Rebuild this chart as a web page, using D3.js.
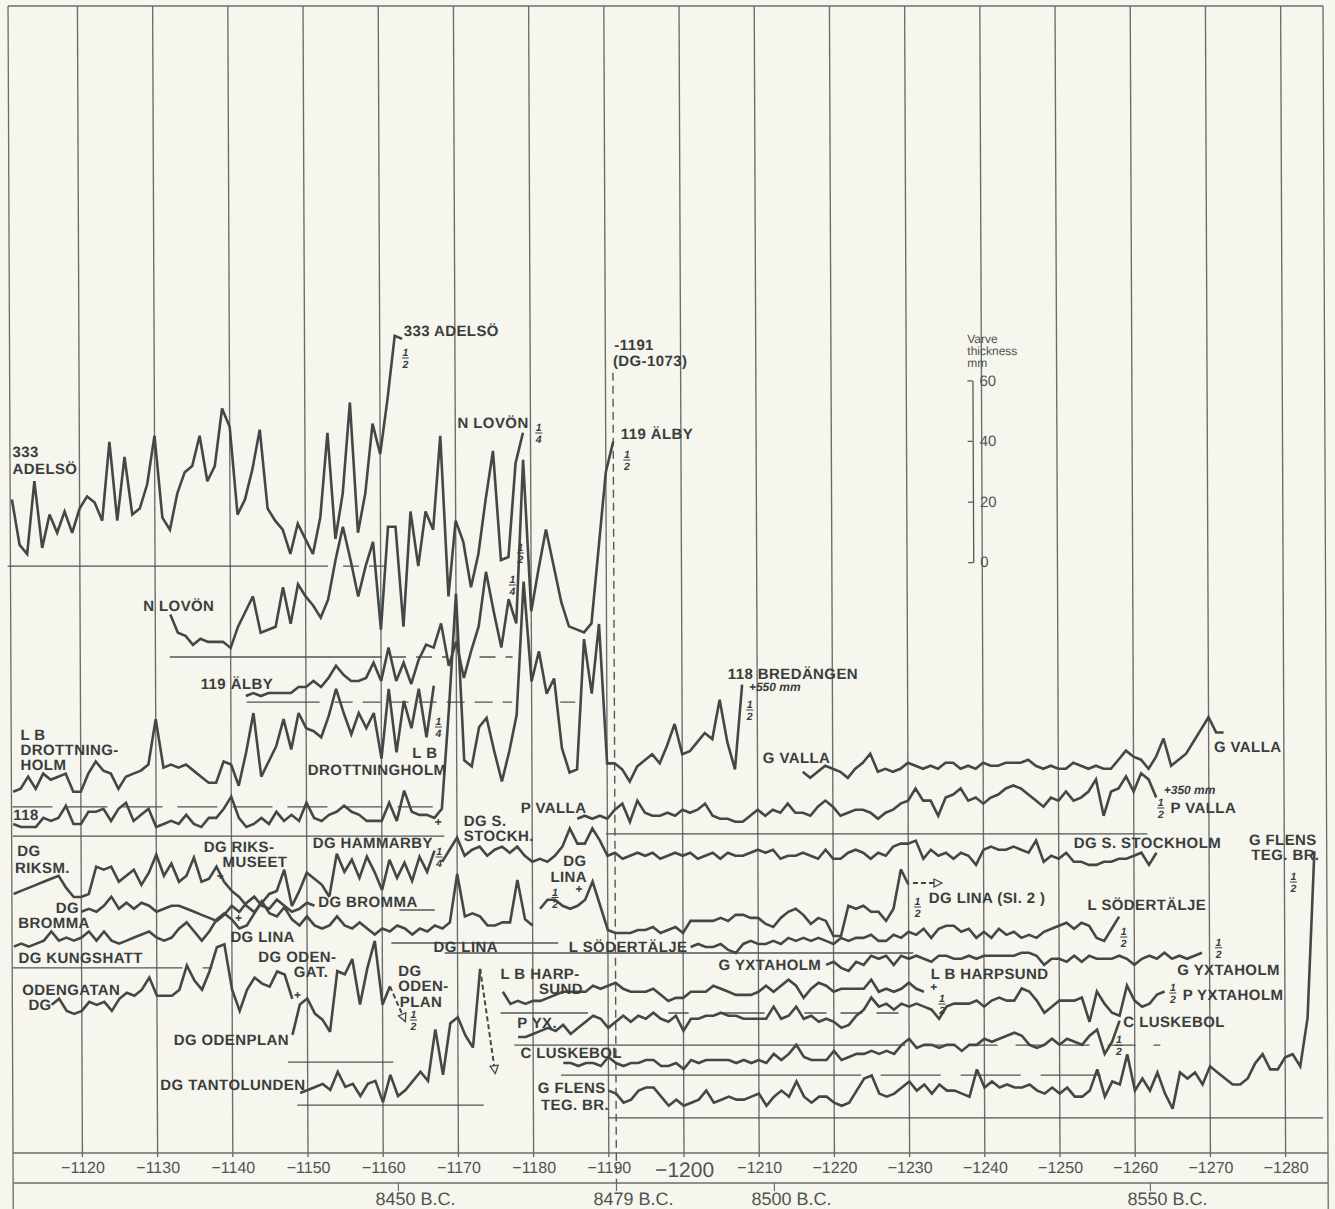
<!DOCTYPE html>
<html>
<head>
<meta charset="utf-8">
<script src="https://cdn.jsdelivr.net/npm/d3@7"></script>
<style>
  html, body { margin: 0; padding: 0; background: #f6f5ee; }
  svg { display: block; }
  text { font-family: "Liberation Sans", Arial, Helvetica, sans-serif; }
</style>
</head>
<body>
<svg id="chart" width="1335" height="1209"></svg>
<script>
// ---- axis values -------------------------------------------------------
const yearTicks = d3.range(1120, 1281, 10);          // varve numbers, drawn as −1120 … −1280
const bcMarks = [[1162, "8450 B.C."], [1191, "8479 B.C."], [1212, "8500 B.C."], [1262, "8550 B.C."]];
const legendTicks = [0, 20, 40, 60];                  // varve thickness, mm
const markerYear = 1191;                              // −1191 (DG-1073)

// ---- varve thickness series (mm per year), first year in seriesStart ----
const adelso = [22,7,4,28,6,17,11,18,11,19,23,21,15,41,15,36,17,19,27,43,16,12,24,31,33,43,28,33,52,46,17,22,32,45,19,15,12,4,14,9,4,16,44,9,24,54,11,24,47,37,55,76,75];
const nLovon = [14,8,7,4,6,5,5,5,3,10,15,20,8,9,10,23,11,24,20,17,13,19,32,43,32,20,30,38,9,43,43,10,48,30,48,42,73,20,45,38,23,34,52,68,32,33,64,74];
const alby = [2,3,2,3,3,3,3,5,5,7,5,8,12,9,7,7,8,13,7,18,7,13,6,14,19,18,26,12,20,8,17,25,43,30,18,34,26,80,30,44,57,45,33,25,24,23,26,51,76,86];
const lbDrottningholm = [5,6,10,6,11,9,10,11,5,5,11,15,12,11,6,10,11,12,14,29,13,14,13,14,12,10,8,8,15,14,7,18,31,10,15,20,29,19,31,26,25,23,30,39,31,24,31,26,31,16,39,18,35,26,39,23,40];
const bredangen118 = [4,3,3,3,6,5,6,10,4,4,8,8,9,5,9,11,5,7,9,3,4,5,4,7,4,3,6,6,9,13,6,3,4,6,4,8,5,7,5,11,6,5,7,8,10,8,7,5,5,5,11,5,15,8,7,7,6,9,42,80,25,23,36,39,28,18,28,40,84,51,61,47,52,29,21,22,65,47,70,24,24,22,18,23,25,27,24,30,37,27,28,31,34,32,45,31,22,50];
const riksmuseet = [7,8,9,10,11,12,13,9,6,6,7,16,15,16,11,13,15,10,14,20,13,17,11,13,19,11,12,16,11,8,6,3,1,4,7,8,15,3,8,14,12,10,6];
const bromma = [6,7,6,8,11,7,9,7,9,8,6,7,8,8,7,6,5,4,3,5,8,6,9,11,8,7,10,8,6,7,9,8];
const kungshattLina = [7,8,7,8,9,12,9,10,9,10,12,9,12,9,8,9,10,11,12,10,9,10,13,15,12,9,12,16,18,16,13,14,18,22,18,17,20,16,14,17,14,13,14,17,14,13,15,13,11,13,12,14,13,11,13,12,14,13,15,31,17,18,17,14,14,15,15,29,16,14];
const odengatan = [5,7,3,2,3,6,5,6,3,7,9,8,10,14,8,8,8,10,18,13,10,16,24,25,10,3,10,14,12,11,16,15,7];
const odenplan = [9,19,21,16,14,10,30,29,34,19,31,40,19,25];
const tantolunden = [4,5,6,7,5,11,6,7,3,7,8,1,10,3,5,8,11,8,25,10,27,29,23,19,45];
const hammarby = [3,17,11,15,9,16,11,5,15,9,14,8,16,11,18];
const sStockholm = [6,10,14,8,10,11,8,10,11,9,11,8,6,7,6,8,11,17,12,12,17,13,8,9,7,8,9,8,9,7,8,9,8,9,7,8,9,7,9,8,8,9,10,9,10,7,8,8,9,8,7,10,7,7,9,10,9,7,9,8,11,12,12,13,7,10,8,9,7,9,8,5,10,11,10,10,11,10,9,13,6,8,7,9,6,6,5,5,6,6,7,7,8,9,5,9];
const pValla = [5,6,5,6,5,8,10,4,11,7,6,6,7,6,8,7,8,10,6,5,5,4,4,6,8,6,8,7,10,7,7,6,9,11,9,6,7,8,8,7,5,7,8,10,11,15,11,11,6,12,13,15,11,12,10,12,13,15,16,15,13,11,9,12,11,14,11,12,14,18,6,14,15,19,14,20,18,12];
const gValla = [6,4,6,8,7,6,4,7,9,12,6,7,6,7,9,8,7,8,7,9,9,7,8,7,9,8,8,9,9,9,10,8,7,8,7,7,9,8,7,8,7,7,10,13,11,10,7,11,17,8,10,12,16,20,24,19,19];
const linaSl2 = [12,15,15,13,12,13,15,21,13,5,4,4,4,5,5,6,4,5,6,4,8,8,8,8,9,8,10,10,9,9,7,6,9,11,12,10,7,9,8,3,3,13,12,13,11,11,8,12,25,20];
const sodertalje = [2,3,2,2,3,1,0,3,4,3,3,4,3,5,4,5,4,5,4,3,5,4,5,5,6,4,4,6,5,7,6,8,5,8,9,9,7,8,5,7,5,8,6,7,5,6,5,7,8,9,10,8,10,9,5,4,8,12];
const gYxtaholm = [5,6,4,3,6,5,8,7,8,5,8,7,8,7,6,8,8,7,7,8,7,8,8,8,8,8,9,9,8,5,7,7,6,8,6,8,7,7,7,8,7,5,7,8,7,9,7,8,7,8,9];
const harpsund = [7,3,4,3,4,4,5,6,7,7,7,7,9,8,9,10,8,7,7,7,8,6,4,5,5,7,7,7,9,8,7,6,6,6,7,9,7,9,11,9,5,8,10,9,7,8,8,8,8,11,7,8,7,8,10,8,7];
const pYxtaholm = [2,2,3,4,5,4,6,3,5,7,9,8,5,7,9,7,9,8,10,8,7,9,4,8,8,9,9,10,9,9,8,8,8,8,12,8,9,12,8,9,7,8,7,5,6,9,11,15,12,13,11,13,12,13,12,11,8,12,13,13,13,14,12,14,15,14,14,18,17,14,10,12,14,14,14,15,7,17,13,10,9,19,14,12,13,16,17];
const luskebol = [4,4,3,4,4,3,6,4,3,4,4,5,5,3,3,4,2,5,4,5,5,5,5,4,5,4,5,4,7,5,7,10,6,5,5,5,8,5,6,7,7,8,7,8,7,10,12,9,10,10,9,10,10,8,10,10,12,11,12,13,14,13,10,9,10,12,10,12,11,10,13,15,7,11,18];
const gFlens = [9,8,5,6,9,10,10,7,4,6,4,5,6,9,5,6,7,6,6,7,8,4,7,9,7,12,7,5,7,7,5,4,5,9,13,14,8,7,8,10,12,9,11,8,11,9,9,8,7,16,10,12,10,11,10,10,11,9,8,10,8,10,7,7,9,16,7,12,11,21,9,13,9,15,8,3,15,13,15,11,17,15,13,11,11,13,18,21,16,16,20,21,17,33,88];

const seriesStart = {
  adelso: 1111, nLovon: 1132, alby: 1142, lbDrottningholm: 1111, bredangen118: 1111,
  riksmuseet: 1111, bromma: 1120, kungshattLina: 1111, odengatan: 1116, odenplan: 1148,
  tantolunden: 1149, hammarby: 1153, sStockholm: 1168, pValla: 1186, gValla: 1216,
  linaSl2: 1181, sodertalje: 1201, gYxtaholm: 1219, harpsund: 1176, pYxtaholm: 1178,
  luskebol: 1184, gFlens: 1190
};
const seriesValues = {
  adelso, nLovon, alby, lbDrottningholm, bredangen118, riksmuseet, bromma, kungshattLina,
  odengatan, odenplan, tantolunden, hammarby, sStockholm, pValla, gValla, linaSl2,
  sodertalje, gYxtaholm, harpsund, pYxtaholm, luskebol, gFlens
};

// ---- layout: zero level of each curve, on the common mm scale ----------
const zeroLevel = {
  adelso: 193.7, nLovon: 163.7, alby: 148.8, lbDrottningholm: 114.2, bredangen118: 104.6,
  riksmuseet: 78.5, bromma: 73.6, kungshattLina: 61.1, odengatan: 43.9, odenplan: 30.0,
  tantolunden: 15.8, hammarby: 81.8, sStockholm: 90.1, pValla: 105.3, gValla: 119.8,
  linaSl2: 68.6, sodertalje: 66.0, gYxtaholm: 57.1, harpsund: 46.2, pYxtaholm: 36.3,
  luskebol: 25.7, gFlens: 11.6
};
// zero lines: level, from year, to year, dash pattern (null = solid)
const zeroLines = [
  [193.7, 1110.4, 1153.0, null], [193.7, 1155.0, 1161.9, "16,10"],
  [163.7, 1131.9, 1160.1, null], [163.7, 1161.2, 1168.7, "16,10"], [163.7, 1173.1, 1177.5, "16,10"],
  [148.8, 1142.1, 1151.8, null], [148.8, 1153.8, 1177.4, "18,10"], [148.8, 1183.8, 1185.8, null],
  [114.2, 1110.9, 1166.8, "40,15"],
  [104.6, 1110.9, 1168.3, null],
  [105.3, 1189.8, 1261.8, null],
  [80.2, 1162.3, 1167.0, null],
  [61.1, 1110.8, 1133.4, null], [61.1, 1136.1, 1137.4, null],
  [69.3, 1161.2, 1183.4, null],
  [66.0, 1168.3, 1230.6, null],
  [46.2, 1175.7, 1187.3, null], [46.2, 1198.0, 1200.7, null], [46.2, 1204.7, 1210.8, null], [46.2, 1216.1, 1230.3, "22,14"],
  [35.6, 1177.5, 1225.8, null], [35.6, 1225.8, 1263.4, "28,18"],
  [25.7, 1183.7, 1223.6, null], [25.7, 1226.2, 1257.4, "60,20"],
  [11.6, 1189.9, 1285.0, null],
  [30.0, 1147.4, 1161.4, null],
  [15.8, 1148.6, 1173.4, null]
];

// ---- names and notes: text, year, level ---------------------------------
const names = [
  ["333 ADELSÖ", 1163.2, 269.6], ["333", 1111.1, 229.7], ["ADELSÖ", 1111.1, 224.1],
  ["N LOVÖN", 1170.3, 239.3], ["119 ÄLBY", 1192.0, 235.6],
  ["-1191", 1191.2, 265.0], ["(DG-1073)", 1191.0, 259.7],
  ["N LOVÖN", 1128.4, 178.9], ["119 ÄLBY", 1136.0, 153.1], ["118 BREDÄNGEN", 1206.1, 156.4],
  ["L B", 1112.0, 136.3], ["DROTTNING-", 1112.0, 131.4], ["HOLM", 1112.0, 126.4],
  ["L B", 1164.1, 130.4], ["DROTTNINGHOLM", 1150.2, 124.8],
  ["G VALLA", 1210.7, 128.7], ["G VALLA", 1270.7, 132.3],
  ["118", 1111.0, 109.9], ["P VALLA", 1178.5, 112.2], ["P VALLA", 1264.9, 112.2],
  ["DG S.", 1170.9, 108.0], ["STOCKH.", 1170.9, 102.9],
  ["DG", 1111.5, 97.9], ["RIKSM.", 1111.2, 92.5],
  ["DG RIKS-", 1136.3, 99.3], ["MUSEET", 1138.8, 94.4],
  ["DG HAMMARBY", 1150.8, 100.7],
  ["DG", 1116.6, 79.2], ["BROMMA", 1111.6, 74.3], ["DG BROMMA", 1151.5, 81.2],
  ["DG LINA", 1139.8, 69.6], ["DG KUNGSHATT", 1111.6, 62.7],
  ["ODENGATAN", 1112.1, 52.1], ["DG", 1112.9, 47.2],
  ["DG ODEN-", 1143.5, 63.0], ["GAT.", 1148.2, 58.1],
  ["DG", 1162.1, 58.3], ["ODEN-", 1162.1, 53.3], ["PLAN", 1162.3, 48.3],
  ["DG ODENPLAN", 1132.2, 35.6], ["DG TANTOLUNDEN", 1130.4, 20.8],
  ["DG", 1184.1, 94.6], ["LINA", 1182.4, 89.6],
  ["DG LINA", 1166.8, 66.3], ["L SÖDERTÄLJE", 1184.8, 66.3],
  ["L B  HARP-", 1175.7, 57.3], ["SUND", 1180.8, 52.5],
  ["P YX.", 1177.9, 41.3], ["C LUSKEBOL", 1178.3, 31.4],
  ["G FLENS", 1180.6, 19.8], ["TEG. BR.", 1181.0, 14.2],
  ["G YXTAHOLM", 1204.7, 60.4], ["DG S. STOCKHOLM", 1252.0, 100.7],
  ["G FLENS", 1275.3, 101.7], ["TEG. BR.", 1275.6, 96.7],
  ["DG LINA (SI. 2 )", 1232.7, 82.5], ["L SÖDERTÄLJE", 1253.8, 80.2],
  ["G YXTAHOLM", 1265.7, 58.7], ["L B HARPSUND", 1232.9, 57.3],
  ["P YXTAHOLM", 1266.4, 50.5], ["C LUSKEBOL", 1258.5, 41.6]
];
const shifts = [["+550 mm", 1208.9, 152.5], ["+350 mm", 1264.0, 118.5]];
// scale reductions: numerator, denominator, year, level
const fractions = [
  ["1","2",1163.4,262.4], ["1","4",1181.1,237.6], ["1","2",1192.8,228.7],
  ["1","2",1178.6,198.0], ["1","4",1177.5,187.5], ["1","2",1209.0,146.2],
  ["1","4",1167.6,140.6], ["1","2",1263.6,113.9], ["1","4",1167.6,97.7],
  ["1","2",1281.2,89.4], ["1","2",1183.0,84.3], ["1","2",1231.2,81.2],
  ["1","2",1258.6,71.3], ["1","2",1271.2,67.7], ["1","2",1234.4,49.2],
  ["1","2",1265.1,52.8], ["1","2",1257.9,35.6], ["1","2",1164.1,43.9]
];
const joins = [[1138.5, 90.0], [1140.9, 76.2], [1148.7, 50.8], [1167.5, 107.9], [1186.2, 85.8], [1233.3, 53.3]];
// dashed continuations ending in an open arrowhead
const tails = [
  { from: "tantolunden", to: [1174.8, 28.8] },
  { from: "odenplan", to: [1162.6, 45.8] },
  { start: [1230.6, 89.1], to: [1233.4, 89.1] }
];

// ---- scales ------------------------------------------------------------
const x = d3.scaleLinear().domain([1120, 1280]).range([82.4, 1285.6]);
const y = d3.scaleLinear().domain([0, 100]).range([1153, 850]);   // 3.03 px per mm

const frame = { left: 13, right: 1328, top: 6, axis: y(0), axis2: 1183, bottom: 1209 };
const ink = "#434847", gridInk = "#686d6b", textInk = "#393e3d", axisInk = "#4f5452";

const svg = d3.select("#chart");
svg.append("rect").attr("width", 1335).attr("height", 1209).attr("fill", "#f6f5ee");
// the sheet sits very slightly sheared
const root = svg.append("g").attr("transform", "translate(-5,0) skewX(0.2485)");

// frame
const fr = root.append("g").attr("stroke", gridInk).attr("stroke-width", 1.3).attr("fill", "none");
fr.append("line").attr("x1", frame.left).attr("x2", frame.left).attr("y1", frame.top).attr("y2", frame.bottom);
fr.append("line").attr("x1", frame.right).attr("x2", frame.right).attr("y1", frame.top).attr("y2", frame.bottom);
fr.append("line").attr("x1", frame.left).attr("x2", frame.right).attr("y1", frame.top).attr("y2", frame.top);
fr.append("line").attr("x1", frame.left).attr("x2", frame.right).attr("y1", frame.axis).attr("y2", frame.axis);
fr.append("line").attr("x1", frame.left).attr("x2", frame.right).attr("y1", frame.axis2).attr("y2", frame.axis2);

// vertical grid at every ten varves
root.append("g").selectAll("line").data(yearTicks).join("line")
  .attr("x1", d => x(d)).attr("x2", d => x(d))
  .attr("y1", frame.top).attr("y2", frame.axis + 4)
  .attr("stroke", gridInk).attr("stroke-width", 1.35);

// varve-number axis
const ax = root.append("g").attr("transform", `translate(0,${frame.axis})`)
  .call(d3.axisBottom(x).tickValues(yearTicks).tickSize(0).tickPadding(9).tickFormat(d => "\u2212" + d));
ax.select(".domain").remove();
ax.selectAll("text").attr("fill", axisInk).attr("font-size", d => d === 1200 ? 21 : 16)
  .attr("font-family", "Liberation Sans, Arial, sans-serif");

// B.C. scale
const bc = root.append("g");
bc.selectAll("line").data(bcMarks).join("line")
  .attr("x1", d => x(d[0])).attr("x2", d => x(d[0]))
  .attr("y1", frame.axis2).attr("y2", frame.axis2 + 8)
  .attr("stroke", gridInk).attr("stroke-width", 1.2);
bc.selectAll("text").data(bcMarks).join("text")
  .attr("x", d => x(d[0]) - 23).attr("y", frame.axis2 + 22)
  .attr("font-size", 18).attr("fill", axisInk).text(d => d[1]);

// −1191 marker line
root.append("line")
  .attr("x1", x(markerYear)).attr("x2", x(markerYear))
  .attr("y1", y(257.5)).attr("y2", frame.axis2)
  .attr("stroke", "#555a58").attr("stroke-width", 1.4).attr("stroke-dasharray", "8,5");

// zero lines
root.append("g").selectAll("line").data(zeroLines).join("line")
  .attr("x1", d => x(d[1])).attr("x2", d => x(d[2]))
  .attr("y1", d => y(d[0])).attr("y2", d => y(d[0]))
  .attr("stroke", "#505554").attr("stroke-width", 1.3)
  .attr("stroke-dasharray", d => d[3]);

// curves
const line = d3.line().x(d => x(d[0])).y(d => y(d[1]));
const curveData = Object.keys(seriesValues).map(k => ({
  key: k,
  pts: seriesValues[k].map((v, i) => [seriesStart[k] + i, zeroLevel[k] + v])
}));
root.append("g").selectAll("path").data(curveData).join("path")
  .attr("d", d => line(d.pts))
  .attr("fill", "none").attr("stroke", ink).attr("stroke-width", 2.6)
  .attr("stroke-linejoin", "miter").attr("stroke-miterlimit", 3).attr("stroke-linecap", "butt");

// dashed continuations with open arrowheads
const tailG = root.append("g");
tails.forEach(t => {
  let p0;
  if (t.from) {
    const c = curveData.find(c => c.key === t.from);
    p0 = c.pts[c.pts.length - 1];
  } else p0 = t.start;
  const a = [x(p0[0]), y(p0[1])], b = [x(t.to[0]), y(t.to[1])];
  tailG.append("line").attr("x1", a[0]).attr("y1", a[1]).attr("x2", b[0]).attr("y2", b[1])
    .attr("stroke", ink).attr("stroke-width", 2).attr("stroke-dasharray", "5,3");
  const ang = Math.atan2(b[1] - a[1], b[0] - a[0]) * 180 / Math.PI;
  tailG.append("path").attr("d", "M0,-4 L8,0 L0,4 Z")
    .attr("transform", `translate(${b[0]},${b[1]}) rotate(${ang})`)
    .attr("fill", "#f6f5ee").attr("stroke", ink).attr("stroke-width", 1.3);
});

// names
root.append("g").selectAll("text").data(names).join("text")
  .attr("x", d => x(d[1])).attr("y", d => y(d[2]))
  .attr("font-size", 15).attr("font-weight", "bold").attr("letter-spacing", 0.4)
  .attr("fill", textInk).text(d => d[0]);
root.append("g").selectAll("text").data(shifts).join("text")
  .attr("x", d => x(d[1])).attr("y", d => y(d[2]))
  .attr("font-size", 12).attr("font-weight", "bold").attr("font-style", "italic")
  .attr("fill", textInk).text(d => d[0]);

// fractions
const fg = root.append("g").attr("fill", textInk);
fractions.forEach(f => {
  const cx = x(f[2]), cy = y(f[3]);
  fg.append("text").attr("x", cx).attr("y", cy - 2).attr("text-anchor", "middle")
    .attr("font-size", 10.5).attr("font-weight", "bold").attr("font-style", "italic").text(f[0]);
  fg.append("line").attr("x1", cx - 3.5).attr("x2", cx + 3.5).attr("y1", cy).attr("y2", cy)
    .attr("stroke", textInk).attr("stroke-width", 1);
  fg.append("text").attr("x", cx).attr("y", cy + 10).attr("text-anchor", "middle")
    .attr("font-size", 10.5).attr("font-weight", "bold").attr("font-style", "italic").text(f[1]);
});

// join marks
root.append("g").selectAll("text").data(joins).join("text")
  .attr("x", d => x(d[0])).attr("y", d => y(d[1])).attr("text-anchor", "middle")
  .attr("font-size", 12).attr("font-weight", "bold").attr("fill", textInk).text("+");

// thickness legend
const legendBase = 195;
const ly = d3.scaleLinear().domain([0, 60]).range([y(legendBase), y(legendBase + 60)]);
const legendX = x(1238.8);
const lg = root.append("g").attr("transform", `translate(${legendX},0)`)
  .call(d3.axisRight(ly).tickValues(legendTicks).tickSizeInner(-5).tickSizeOuter(0).tickPadding(7));
lg.select(".domain").attr("stroke", "#555a58").attr("stroke-width", 1.3);
lg.selectAll(".tick line").attr("stroke", "#555a58").attr("stroke-width", 1.3);
lg.selectAll("text").attr("font-size", 15).attr("fill", axisInk)
  .attr("font-family", "Liberation Sans, Arial, sans-serif");
const lt = root.append("g").attr("fill", axisInk).attr("font-size", 12);
["Varve", "thickness", "mm"].forEach((s, i) => {
  lt.append("text").attr("x", legendX - 5).attr("y", y(267.3 - i * 4.0)).text(s);
});
</script>
</body>
</html>
